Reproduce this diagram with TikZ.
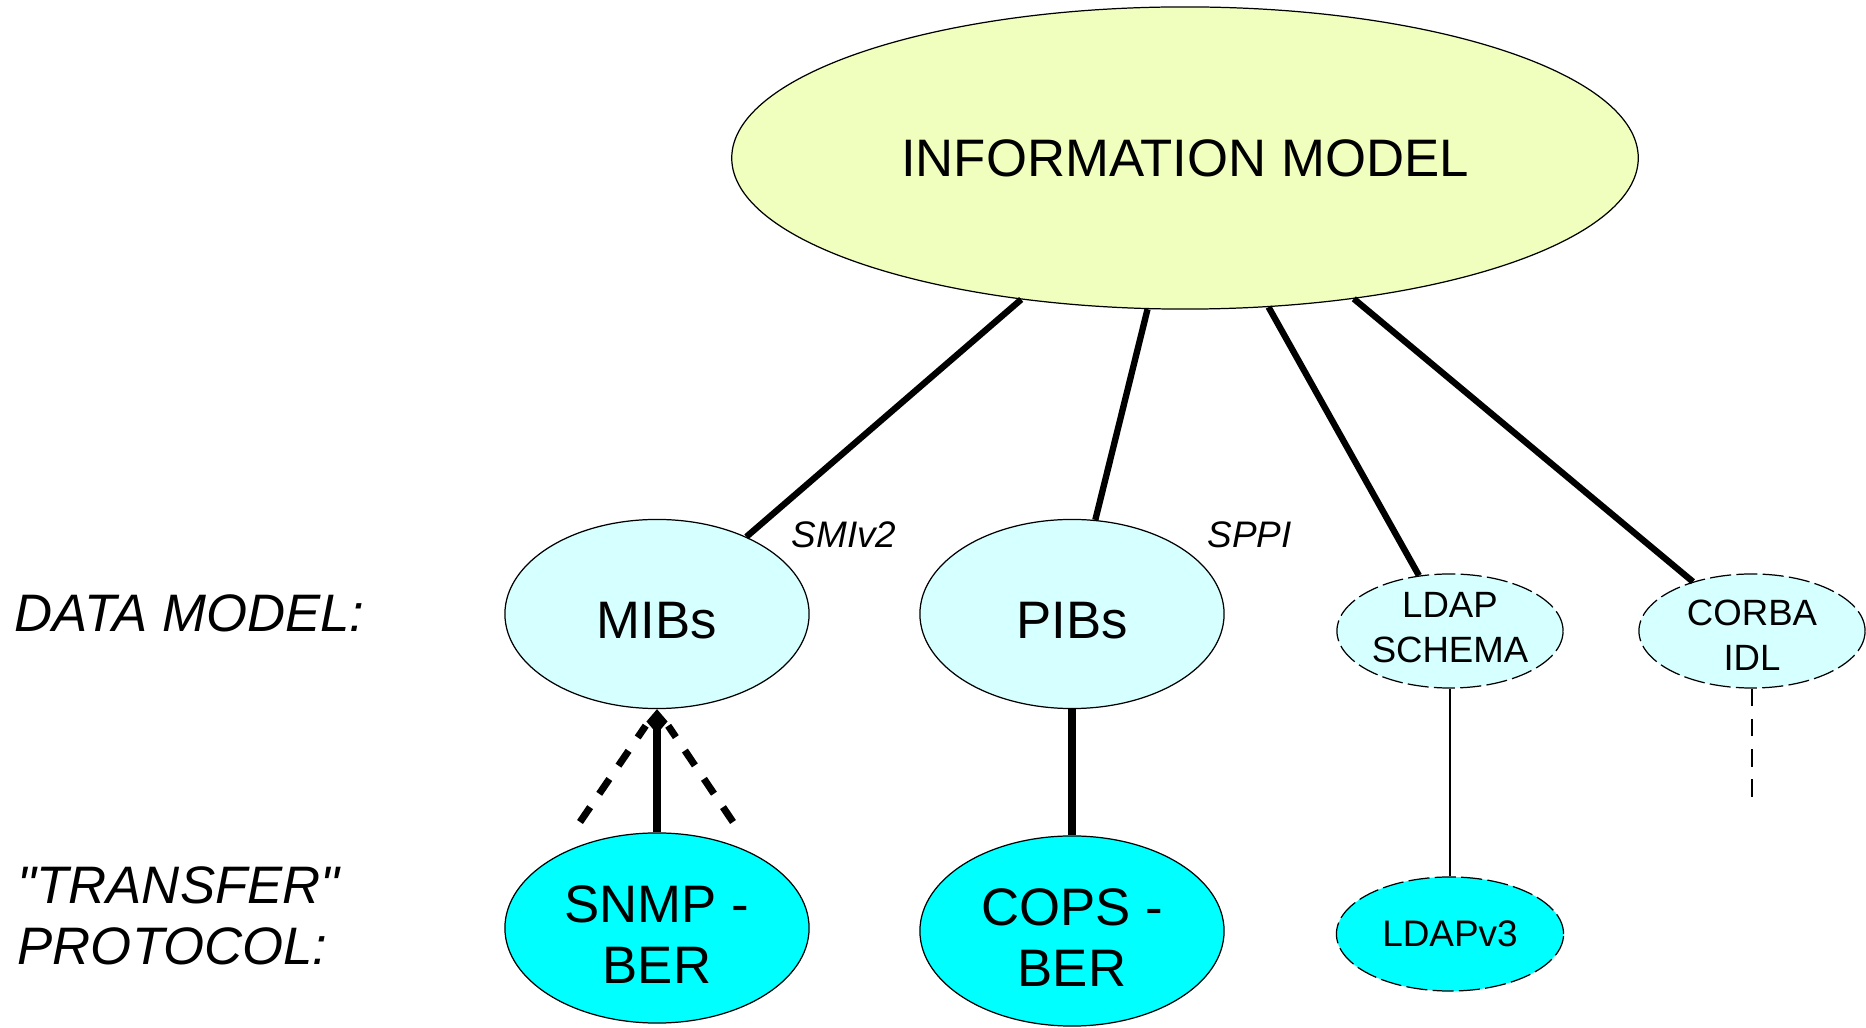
\documentclass[tikz,border=0pt]{standalone}
\usepackage{fontspec}
\setmainfont{Liberation Sans}
\usetikzlibrary{shapes.geometric,arrows.meta}
\definecolor{infofill}{RGB}{241,255,190}
\definecolor{datafill}{RGB}{214,255,255}
\definecolor{protofill}{RGB}{0,255,255}
\begin{document}
\begin{tikzpicture}[x=0.01cm,y=-0.01cm,
    blob/.style={ellipse,draw,line width=0.35pt,inner sep=0pt,align=center},
    bigblob/.style={blob,minimum width=3.04cm,minimum height=1.89cm,text height=14.1pt,font=\fontsize{15}{17.5}\selectfont},
    smallblob/.style={blob,dash pattern=on 6pt off 1.5pt,minimum width=2.26cm,minimum height=1.14cm,font=\fontsize{10.4}{12.8}\selectfont},
    rowlabel/.style={anchor=base west,align=left,inner sep=0pt,font=\fontsize{15}{17.5}\selectfont\itshape},
    langlabel/.style={anchor=base west,inner sep=0pt,font=\fontsize{10.5}{12}\selectfont\itshape},
    link/.style={line width=1.8pt},
    heavylink/.style={line width=2.5pt},
    dashlink/.style={line width=2pt,dash pattern=on 5.1pt off 4.6pt}]
    \useasboundingbox (0,0) rectangle (1866,1028);
    \node[blob,fill=infofill,minimum width=9.06cm,minimum height=3.02cm,font=\fontsize{15}{17.5}\selectfont] (im) at (1185,158) {INFORMATION MODEL};
    \node[bigblob,fill=datafill] (mibs) at (657,614) {MIBs};
    \node[bigblob,fill=datafill] (pibs) at (1072,614) {PIBs};
    \node[smallblob,fill=datafill,text depth=2pt] (ldap) at (1450,631) {LDAP\\SCHEMA};
    \node[smallblob,fill=datafill,text height=22.3pt] (corba) at (1752,631) {CORBA\\IDL};
    \node[bigblob,fill=protofill,minimum height=1.9cm,text height=31.6pt] (snmp) at (657,928) {SNMP -\\BER};
    \node[bigblob,fill=protofill,minimum height=1.9cm,text height=31.6pt] (cops) at (1072,931) {COPS -\\BER};
    \node[smallblob,fill=protofill,minimum width=2.27cm,font=\fontsize{10.5}{12.3}\selectfont] (ldapv) at (1450,934) {LDAPv3};
    \node[rowlabel] (datarow) at (14,632) {DATA MODEL:};
    \node[rowlabel] (protorow) at (17,965) {\textquotedbl TRANSFER\textquotedbl\\PROTOCOL:};
    \node[langlabel] (smi) at (791,548) {SMIv2};
    \node[langlabel] (sppi) at (1207,548) {SPPI};
    \coordinate (snmpl) at (580,822);
    \coordinate (snmpr) at (733,822);
    \coordinate (corbaend) at (1752,804);
    \draw[link] (im) -- (mibs);
    \draw[link] (im) -- (pibs);
    \draw[link] (im) -- (ldap);
    \draw[link] (im) -- (corba);
    \draw[heavylink,-{Diamond[length=7pt,width=6pt]}] (snmp) -- (mibs);
    \draw[dashlink,shorten >=0.2cm] (snmpl) -- (mibs.south);
    \draw[dashlink,shorten >=0.2cm] (snmpr) -- (mibs.south);
    \draw[heavylink] (pibs) -- (cops);
    \draw[line width=0.6pt] (ldap.south) -- (ldap.south |- ldapv.north);
    \draw[line width=0.55pt,dash pattern=on 5pt off 3.6pt] (corba.south) -- (corbaend);
\end{tikzpicture}
\end{document}
